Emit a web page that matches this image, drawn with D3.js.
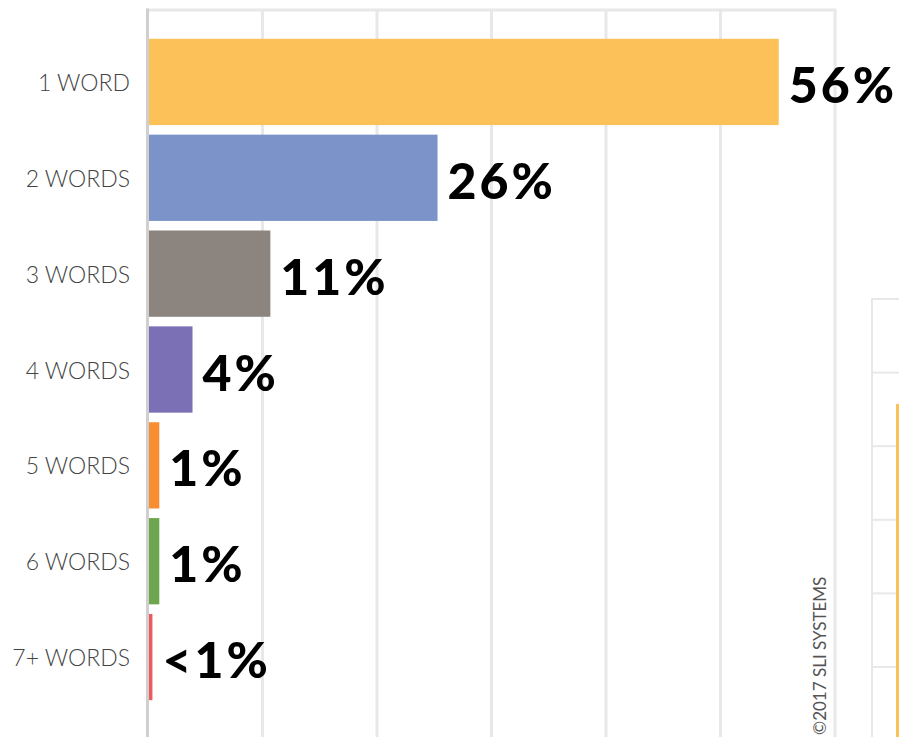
<!DOCTYPE html>
<html>
<head>
<meta charset="utf-8">
<script src="https://cdn.jsdelivr.net/npm/d3@7"></script>
<style>
  body { margin: 0; background: #fff; }
  svg { display: block; }
</style>
</head>
<body>
<div id="chart"></div>
<script>
var categories = ["1 WORD", "2 WORDS", "3 WORDS", "4 WORDS", "5 WORDS", "6 WORDS", "7+ WORDS"];
var values = [55, 25.2, 10.6, 3.8, 0.9, 0.9, 0.3];
var valueLabels = ["56%", "26%", "11%", "4%", "1%", "1%", "<1%"];
var barColors = ["#fcc259", "#7b93c9", "#8b847f", "#7b70b6", "#f78e32", "#6ea650", "#ee5b5e"];
var gridTicks = [0, 10, 20, 30, 40, 50, 60];
var sideRows = [0, 1, 2, 3, 4, 5];

var width = 899, height = 737;
var margin = {top: 10, left: 148, right: 64};

var svg = d3.select("#chart").append("svg")
    .attr("width", width)
    .attr("height", height);

var x = d3.scaleLinear().domain([0, 60]).range([margin.left, width - margin.right]);
var y = d3.scaleBand().domain(categories).range([34, 705]).paddingInner(0.1).paddingOuter(0.05);

// grid
svg.selectAll("line.grid")
    .data(gridTicks.slice(1))
    .enter().append("line")
    .attr("class", "grid")
    .attr("x1", function(d){ return x(d); })
    .attr("x2", function(d){ return x(d); })
    .attr("y1", margin.top)
    .attr("y2", height)
    .style("stroke", "#e8e8e8")
    .style("stroke-width", 3);

svg.append("line")
    .attr("x1", x(0) - 1.5).attr("x2", x(60) + 1.5)
    .attr("y1", margin.top).attr("y2", margin.top)
    .style("stroke", "#e8e8e8")
    .style("stroke-width", 3);

svg.append("line")
    .attr("x1", x(0) - 0.5).attr("x2", x(0) - 0.5)
    .attr("y1", margin.top - 1.5).attr("y2", height)
    .style("stroke", "#cfcfcf")
    .style("stroke-width", 3);

// bars
svg.selectAll("rect.bar")
    .data(values)
    .enter().append("rect")
    .attr("class", "bar")
    .attr("x", x(0) + 1)
    .attr("y", function(d, i){ return y(categories[i]); })
    .attr("width", function(d){ return x(d) - x(0); })
    .attr("height", y.bandwidth())
    .style("fill", function(d, i){ return barColors[i]; });

// category labels
svg.selectAll("text.cat")
    .data(categories)
    .enter().append("text")
    .attr("class", "cat")
    .attr("x", 130)
    .attr("y", function(d){ return y(d) + y.bandwidth()/2 + 9; })
    .style("text-anchor", "end")
    .style("font-family", "Lato, sans-serif")
    .style("font-weight", "300")
    .style("font-size", "23px")
    .style("fill", "#444")
    .text(function(d){ return d; });

// value labels
svg.selectAll("text.val")
    .data(values)
    .enter().append("text")
    .attr("class", "val")
    .attr("x", function(d){ return x(d) + 11; })
    .attr("y", function(d, i){ return y(categories[i]) + y.bandwidth()/2 + 21; })
    .style("font-family", "Lato, sans-serif")
    .style("font-weight", "900")
    .style("font-size", "50px")
    .style("letter-spacing", "3px")
    .style("fill", "#000")
    .text(function(d, i){ return valueLabels[i]; });

// copyright
svg.append("text")
    .attr("transform", "translate(826,735) rotate(-90)")
    .style("font-family", "Lato, sans-serif")
    .style("font-size", "17px")
    .style("fill", "#555")
    .text("\u00a92017 SLI SYSTEMS");

// edge of neighbouring chart
var side = d3.scaleLinear().domain([0, 5]).range([299, 667]);
svg.append("line")
    .attr("x1", 872).attr("x2", 872)
    .attr("y1", 298).attr("y2", height)
    .style("stroke", "#e8e8e8").style("stroke-width", 2);
svg.selectAll("line.side")
    .data(sideRows)
    .enter().append("line")
    .attr("class", "side")
    .attr("x1", 872).attr("x2", width)
    .attr("y1", function(d){ return side(d); })
    .attr("y2", function(d){ return side(d); })
    .style("stroke", "#e8e8e8").style("stroke-width", 2);
svg.append("line")
    .attr("x1", 897.5).attr("x2", 897.5)
    .attr("y1", 404).attr("y2", height)
    .style("stroke", "#fcc259").style("stroke-width", 3);
</script>
</body>
</html>
